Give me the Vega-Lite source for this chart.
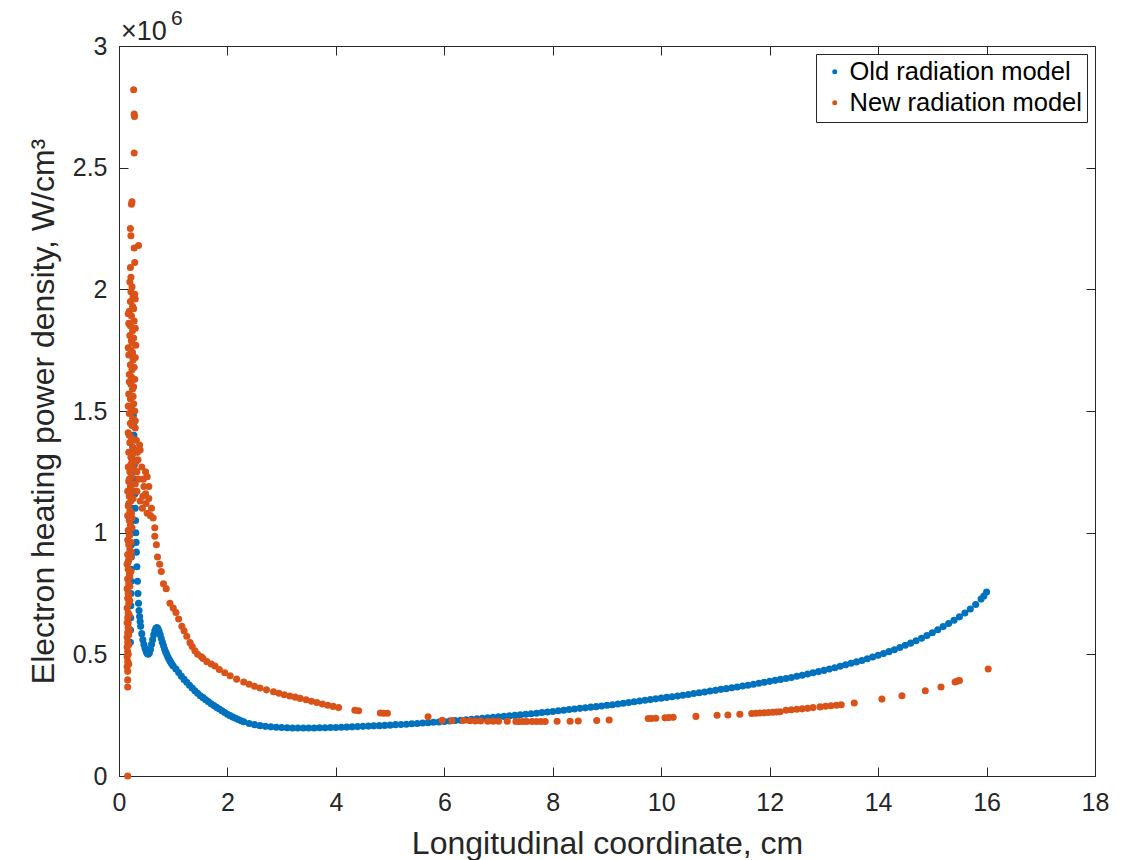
{
  "$schema": "https://vega.github.io/schema/vega-lite/v6.json",
  "width": 976,
  "height": 730,
  "autosize": "none",
  "padding": {"left": 119, "top": 46, "right": 40, "bottom": 84},
  "background": "white",
  "datasets": {
    "pts": [
      {"x":0.21,"y":0.55,"m":"Old"},{"x":0.212,"y":0.6,"m":"Old"},{"x":0.215,"y":0.65,"m":"Old"},{"x":0.218,"y":0.7,"m":"Old"},{"x":0.22,"y":0.75,"m":"Old"},{"x":0.222,"y":0.8,"m":"Old"},{"x":0.225,"y":0.85,"m":"Old"},{"x":0.228,"y":0.9,"m":"Old"},{"x":0.23,"y":0.95,"m":"Old"},{"x":0.232,"y":1.0,"m":"Old"},{"x":0.235,"y":1.05,"m":"Old"},{"x":0.238,"y":1.1,"m":"Old"},{"x":0.24,"y":1.15,"m":"Old"},{"x":0.243,"y":1.2,"m":"Old"},{"x":0.246,"y":1.25,"m":"Old"},{"x":0.25,"y":1.3,"m":"Old"},{"x":0.253,"y":1.35,"m":"Old"},{"x":0.256,"y":1.4,"m":"Old"},{"x":0.26,"y":1.45,"m":"Old"},{"x":0.265,"y":1.48,"m":"Old"},{"x":0.27,"y":1.45,"m":"Old"},{"x":0.275,"y":1.4,"m":"Old"},{"x":0.28,"y":1.34,"m":"Old"},{"x":0.285,"y":1.28,"m":"Old"},{"x":0.29,"y":1.22,"m":"Old"},{"x":0.295,"y":1.16,"m":"Old"},{"x":0.3,"y":1.1,"m":"Old"},{"x":0.305,"y":1.05,"m":"Old"},{"x":0.31,"y":1.0,"m":"Old"},{"x":0.315,"y":0.96,"m":"Old"},{"x":0.32,"y":0.92,"m":"Old"},{"x":0.33,"y":0.86,"m":"Old"},{"x":0.34,"y":0.8,"m":"Old"},{"x":0.35,"y":0.75,"m":"Old"},{"x":0.36,"y":0.71,"m":"Old"},{"x":0.37,"y":0.68,"m":"Old"},{"x":0.38,"y":0.655,"m":"Old"},{"x":0.39,"y":0.635,"m":"Old"},{"x":0.4,"y":0.615,"m":"Old"},{"x":0.42,"y":0.585,"m":"Old"},{"x":0.44,"y":0.56,"m":"Old"},{"x":0.46,"y":0.54,"m":"Old"},{"x":0.48,"y":0.525,"m":"Old"},{"x":0.5,"y":0.512,"m":"Old"},{"x":0.52,"y":0.503,"m":"Old"},{"x":0.54,"y":0.5,"m":"Old"},{"x":0.56,"y":0.505,"m":"Old"},{"x":0.58,"y":0.52,"m":"Old"},{"x":0.6,"y":0.54,"m":"Old"},{"x":0.62,"y":0.56,"m":"Old"},{"x":0.64,"y":0.58,"m":"Old"},{"x":0.66,"y":0.597,"m":"Old"},{"x":0.68,"y":0.607,"m":"Old"},{"x":0.7,"y":0.61,"m":"Old"},{"x":0.72,"y":0.605,"m":"Old"},{"x":0.74,"y":0.594,"m":"Old"},{"x":0.76,"y":0.58,"m":"Old"},{"x":0.78,"y":0.565,"m":"Old"},{"x":0.8,"y":0.55,"m":"Old"},{"x":0.82,"y":0.536,"m":"Old"},{"x":0.84,"y":0.522,"m":"Old"},{"x":0.86,"y":0.51,"m":"Old"},{"x":0.88,"y":0.5,"m":"Old"},{"x":0.9,"y":0.49,"m":"Old"},{"x":0.92,"y":0.481,"m":"Old"},{"x":0.94,"y":0.473,"m":"Old"},{"x":0.96,"y":0.465,"m":"Old"},{"x":0.98,"y":0.458,"m":"Old"},{"x":1.0,"y":0.452,"m":"Old"},{"x":1.05,"y":0.44,"m":"Old"},{"x":1.1,"y":0.425,"m":"Old"},{"x":1.15,"y":0.41,"m":"Old"},{"x":1.2,"y":0.397,"m":"Old"},{"x":1.25,"y":0.385,"m":"Old"},{"x":1.3,"y":0.373,"m":"Old"},{"x":1.35,"y":0.362,"m":"Old"},{"x":1.4,"y":0.35,"m":"Old"},{"x":1.45,"y":0.34,"m":"Old"},{"x":1.5,"y":0.33,"m":"Old"},
      {"x":1.55,"y":0.322,"m":"Old"},{"x":1.6,"y":0.313,"m":"Old"},{"x":1.65,"y":0.305,"m":"Old"},{"x":1.7,"y":0.297,"m":"Old"},{"x":1.75,"y":0.29,"m":"Old"},{"x":1.8,"y":0.282,"m":"Old"},{"x":1.85,"y":0.275,"m":"Old"},{"x":1.9,"y":0.268,"m":"Old"},{"x":1.95,"y":0.261,"m":"Old"},{"x":2.0,"y":0.254,"m":"Old"},{"x":2.05,"y":0.248,"m":"Old"},{"x":2.1,"y":0.242,"m":"Old"},{"x":2.15,"y":0.237,"m":"Old"},{"x":2.2,"y":0.232,"m":"Old"},{"x":2.25,"y":0.227,"m":"Old"},{"x":2.3,"y":0.223,"m":"Old"},{"x":2.4,"y":0.216,"m":"Old"},{"x":2.5,"y":0.211,"m":"Old"},{"x":2.6,"y":0.207,"m":"Old"},{"x":2.7,"y":0.204,"m":"Old"},{"x":2.8,"y":0.202,"m":"Old"},{"x":2.9,"y":0.2,"m":"Old"},{"x":3.0,"y":0.199,"m":"Old"},{"x":3.1,"y":0.198,"m":"Old"},{"x":3.2,"y":0.197,"m":"Old"},{"x":3.3,"y":0.197,"m":"Old"},{"x":3.4,"y":0.197,"m":"Old"},{"x":3.5,"y":0.197,"m":"Old"},{"x":3.6,"y":0.197,"m":"Old"},{"x":3.7,"y":0.198,"m":"Old"},{"x":3.8,"y":0.198,"m":"Old"},{"x":3.9,"y":0.199,"m":"Old"},{"x":4.0,"y":0.199,"m":"Old"},{"x":4.1,"y":0.2,"m":"Old"},{"x":4.2,"y":0.201,"m":"Old"},{"x":4.3,"y":0.202,"m":"Old"},{"x":4.4,"y":0.203,"m":"Old"},{"x":4.5,"y":0.204,"m":"Old"},{"x":4.6,"y":0.205,"m":"Old"},{"x":4.7,"y":0.206,"m":"Old"},{"x":4.8,"y":0.207,"m":"Old"},{"x":4.9,"y":0.208,"m":"Old"},{"x":5.0,"y":0.209,"m":"Old"},{"x":5.1,"y":0.211,"m":"Old"},{"x":5.2,"y":0.212,"m":"Old"},{"x":5.3,"y":0.213,"m":"Old"},{"x":5.4,"y":0.215,"m":"Old"},{"x":5.5,"y":0.216,"m":"Old"},{"x":5.6,"y":0.218,"m":"Old"},{"x":5.7,"y":0.219,"m":"Old"},{"x":5.8,"y":0.221,"m":"Old"},{"x":5.9,"y":0.222,"m":"Old"},{"x":6.0,"y":0.224,"m":"Old"},{"x":6.1,"y":0.226,"m":"Old"},{"x":6.2,"y":0.228,"m":"Old"},{"x":6.3,"y":0.229,"m":"Old"},{"x":6.4,"y":0.231,"m":"Old"},{"x":6.5,"y":0.233,"m":"Old"},{"x":6.6,"y":0.235,"m":"Old"},{"x":6.7,"y":0.237,"m":"Old"},{"x":6.8,"y":0.239,"m":"Old"},{"x":6.9,"y":0.241,"m":"Old"},{"x":7.0,"y":0.243,"m":"Old"},{"x":7.1,"y":0.245,"m":"Old"},{"x":7.2,"y":0.247,"m":"Old"},{"x":7.3,"y":0.249,"m":"Old"},{"x":7.4,"y":0.252,"m":"Old"},{"x":7.5,"y":0.254,"m":"Old"},{"x":7.6,"y":0.256,"m":"Old"},{"x":7.7,"y":0.258,"m":"Old"},{"x":7.8,"y":0.261,"m":"Old"},{"x":7.9,"y":0.263,"m":"Old"},{"x":8.0,"y":0.265,"m":"Old"},{"x":8.1,"y":0.268,"m":"Old"},{"x":8.2,"y":0.27,"m":"Old"},{"x":8.3,"y":0.273,"m":"Old"},{"x":8.4,"y":0.275,"m":"Old"},{"x":8.5,"y":0.278,"m":"Old"},{"x":8.6,"y":0.28,"m":"Old"},{"x":8.7,"y":0.283,"m":"Old"},{"x":8.8,"y":0.285,"m":"Old"},{"x":8.9,"y":0.288,"m":"Old"},{"x":9.0,"y":0.291,"m":"Old"},{"x":9.1,"y":0.293,"m":"Old"},{"x":9.2,"y":0.296,"m":"Old"},{"x":9.3,"y":0.299,"m":"Old"},{"x":9.4,"y":0.302,"m":"Old"},{"x":9.5,"y":0.305,"m":"Old"},{"x":9.6,"y":0.308,"m":"Old"},{"x":9.7,"y":0.311,"m":"Old"},{"x":9.8,"y":0.314,"m":"Old"},{"x":9.9,"y":0.317,"m":"Old"},{"x":10.0,"y":0.32,"m":"Old"},{"x":10.1,"y":0.323,"m":"Old"},{"x":10.2,"y":0.326,"m":"Old"},{"x":10.3,"y":0.329,"m":"Old"},{"x":10.4,"y":0.332,"m":"Old"},{"x":10.5,"y":0.335,"m":"Old"},{"x":10.6,"y":0.339,"m":"Old"},{"x":10.7,"y":0.342,"m":"Old"},{"x":10.8,"y":0.345,"m":"Old"},{"x":10.9,"y":0.349,"m":"Old"},{"x":11.0,"y":0.352,"m":"Old"},{"x":11.1,"y":0.356,"m":"Old"},{"x":11.2,"y":0.359,"m":"Old"},{"x":11.3,"y":0.363,"m":"Old"},{"x":11.4,"y":0.366,"m":"Old"},{"x":11.5,"y":0.37,"m":"Old"},{"x":11.6,"y":0.373,"m":"Old"},{"x":11.7,"y":0.377,"m":"Old"},{"x":11.8,"y":0.381,"m":"Old"},{"x":11.9,"y":0.385,"m":"Old"},{"x":12.0,"y":0.389,"m":"Old"},{"x":12.1,"y":0.393,"m":"Old"},{"x":12.2,"y":0.397,"m":"Old"},{"x":12.3,"y":0.401,"m":"Old"},{"x":12.4,"y":0.405,"m":"Old"},{"x":12.5,"y":0.41,"m":"Old"},{"x":12.6,"y":0.414,"m":"Old"},{"x":12.7,"y":0.419,"m":"Old"},{"x":12.8,"y":0.424,"m":"Old"},{"x":12.9,"y":0.429,"m":"Old"},{"x":13.0,"y":0.434,"m":"Old"},{"x":13.1,"y":0.44,"m":"Old"},{"x":13.2,"y":0.445,"m":"Old"},{"x":13.3,"y":0.451,"m":"Old"},{"x":13.4,"y":0.457,"m":"Old"},{"x":13.5,"y":0.463,"m":"Old"},{"x":13.6,"y":0.469,"m":"Old"},{"x":13.7,"y":0.475,"m":"Old"},{"x":13.8,"y":0.482,"m":"Old"},{"x":13.9,"y":0.489,"m":"Old"},{"x":14.0,"y":0.496,"m":"Old"},{"x":14.1,"y":0.503,"m":"Old"},{"x":14.2,"y":0.511,"m":"Old"},{"x":14.3,"y":0.519,"m":"Old"},{"x":14.4,"y":0.528,"m":"Old"},{"x":14.5,"y":0.537,"m":"Old"},{"x":14.6,"y":0.546,"m":"Old"},{"x":14.7,"y":0.556,"m":"Old"},{"x":14.8,"y":0.566,"m":"Old"},{"x":14.9,"y":0.577,"m":"Old"},{"x":15.0,"y":0.589,"m":"Old"},{"x":15.1,"y":0.601,"m":"Old"},{"x":15.2,"y":0.614,"m":"Old"},{"x":15.3,"y":0.627,"m":"Old"},{"x":15.4,"y":0.64,"m":"Old"},{"x":15.5,"y":0.654,"m":"Old"},{"x":15.6,"y":0.67,"m":"Old"},{"x":15.7,"y":0.686,"m":"Old"},{"x":15.8,"y":0.705,"m":"Old"},{"x":15.9,"y":0.727,"m":"Old"},{"x":15.95,"y":0.74,"m":"Old"},{"x":16.0,"y":0.756,"m":"Old"},

      {"x":0.27,"y":2.82,"m":"New"},{"x":0.28,"y":2.72,"m":"New"},{"x":0.285,"y":2.71,"m":"New"},{"x":0.28,"y":2.56,"m":"New"},{"x":0.24,"y":2.36,"m":"New"},{"x":0.23,"y":2.35,"m":"New"},{"x":0.21,"y":2.25,"m":"New"},{"x":0.22,"y":2.22,"m":"New"},{"x":0.28,"y":2.17,"m":"New"},{"x":0.36,"y":2.18,"m":"New"},{"x":0.29,"y":2.11,"m":"New"},{"x":0.21,"y":2.09,"m":"New"},{"x":0.22,"y":2.05,"m":"New"},
      {"x":0.2,"y":2.03,"m":"New"},{"x":0.24,"y":2.01,"m":"New"},{"x":0.22,"y":1.99,"m":"New"},{"x":0.26,"y":1.97,"m":"New"},{"x":0.21,"y":1.95,"m":"New"},{"x":0.25,"y":1.93,"m":"New"},{"x":0.19,"y":1.91,"m":"New"},{"x":0.23,"y":1.89,"m":"New"},{"x":0.28,"y":1.87,"m":"New"},{"x":0.21,"y":1.85,"m":"New"},{"x":0.25,"y":1.83,"m":"New"},{"x":0.2,"y":1.81,"m":"New"},{"x":0.23,"y":1.79,"m":"New"},{"x":0.31,"y":1.77,"m":"New"},{"x":0.22,"y":1.75,"m":"New"},{"x":0.18,"y":1.73,"m":"New"},{"x":0.26,"y":1.71,"m":"New"},{"x":0.21,"y":1.69,"m":"New"},{"x":0.24,"y":1.67,"m":"New"},{"x":0.19,"y":1.65,"m":"New"},{"x":0.29,"y":1.63,"m":"New"},{"x":0.22,"y":1.61,"m":"New"},{"x":0.25,"y":1.59,"m":"New"},{"x":0.18,"y":1.57,"m":"New"},{"x":0.21,"y":1.55,"m":"New"},{"x":0.27,"y":1.53,"m":"New"},{"x":0.23,"y":1.51,"m":"New"},{"x":0.19,"y":1.49,"m":"New"},{"x":0.25,"y":1.47,"m":"New"},{"x":0.21,"y":1.45,"m":"New"},{"x":0.3,"y":1.43,"m":"New"},{"x":0.17,"y":1.41,"m":"New"},{"x":0.23,"y":1.39,"m":"New"},{"x":0.2,"y":1.37,"m":"New"},{"x":0.26,"y":1.35,"m":"New"},{"x":0.18,"y":1.33,"m":"New"},{"x":0.22,"y":1.31,"m":"New"},{"x":0.24,"y":1.29,"m":"New"},{"x":0.17,"y":1.27,"m":"New"},{"x":0.2,"y":1.25,"m":"New"},{"x":0.23,"y":1.23,"m":"New"},{"x":0.18,"y":1.21,"m":"New"},{"x":0.21,"y":1.19,"m":"New"},{"x":0.16,"y":1.17,"m":"New"},{"x":0.19,"y":1.15,"m":"New"},{"x":0.22,"y":1.13,"m":"New"},{"x":0.17,"y":1.11,"m":"New"},{"x":0.2,"y":1.09,"m":"New"},{"x":0.16,"y":1.07,"m":"New"},{"x":0.19,"y":1.05,"m":"New"},{"x":0.21,"y":1.03,"m":"New"},{"x":0.17,"y":1.01,"m":"New"},{"x":0.19,"y":0.99,"m":"New"},{"x":0.16,"y":0.97,"m":"New"},{"x":0.18,"y":0.95,"m":"New"},{"x":0.2,"y":0.93,"m":"New"},{"x":0.16,"y":0.91,"m":"New"},{"x":0.18,"y":0.89,"m":"New"},{"x":0.15,"y":0.87,"m":"New"},{"x":0.17,"y":0.85,"m":"New"},{"x":0.19,"y":0.83,"m":"New"},{"x":0.16,"y":0.81,"m":"New"},{"x":0.18,"y":0.79,"m":"New"},{"x":0.15,"y":0.77,"m":"New"},{"x":0.17,"y":0.75,"m":"New"},{"x":0.16,"y":0.73,"m":"New"},{"x":0.18,"y":0.71,"m":"New"},{"x":0.15,"y":0.69,"m":"New"},{"x":0.17,"y":0.67,"m":"New"},{"x":0.16,"y":0.65,"m":"New"},{"x":0.15,"y":0.63,"m":"New"},{"x":0.17,"y":0.61,"m":"New"},{"x":0.16,"y":0.59,"m":"New"},{"x":0.15,"y":0.57,"m":"New"},{"x":0.16,"y":0.55,"m":"New"},{"x":0.15,"y":0.53,"m":"New"},{"x":0.16,"y":0.51,"m":"New"},{"x":0.15,"y":0.49,"m":"New"},{"x":0.16,"y":0.47,"m":"New"},{"x":0.15,"y":0.45,"m":"New"},{"x":0.16,"y":0.43,"m":"New"},{"x":0.16,"y":0.395,"m":"New"},{"x":0.16,"y":0.366,"m":"New"},{"x":0.16,"y":0.0,"m":"New"},
      {"x":0.29,"y":1.98,"m":"New"},{"x":0.27,"y":1.92,"m":"New"},{"x":0.18,"y":1.86,"m":"New"},{"x":0.27,"y":1.8,"m":"New"},{"x":0.25,"y":1.74,"m":"New"},{"x":0.28,"y":1.68,"m":"New"},{"x":0.19,"y":1.62,"m":"New"},{"x":0.26,"y":1.56,"m":"New"},{"x":0.29,"y":1.5,"m":"New"},{"x":0.24,"y":1.44,"m":"New"},{"x":0.27,"y":1.38,"m":"New"},{"x":0.25,"y":1.32,"m":"New"},{"x":0.28,"y":1.26,"m":"New"},{"x":0.25,"y":1.2,"m":"New"},{"x":0.26,"y":1.14,"m":"New"},{"x":0.23,"y":1.08,"m":"New"},{"x":0.24,"y":1.02,"m":"New"},{"x":0.22,"y":0.96,"m":"New"},{"x":0.21,"y":0.9,"m":"New"},{"x":0.22,"y":0.84,"m":"New"},{"x":0.2,"y":0.78,"m":"New"},{"x":0.2,"y":0.72,"m":"New"},{"x":0.19,"y":0.66,"m":"New"},{"x":0.19,"y":0.6,"m":"New"},{"x":0.18,"y":0.54,"m":"New"},
      {"x":0.3,"y":1.96,"m":"New"},{"x":0.17,"y":1.9,"m":"New"},{"x":0.3,"y":1.84,"m":"New"},{"x":0.24,"y":1.78,"m":"New"},{"x":0.17,"y":1.76,"m":"New"},{"x":0.3,"y":1.72,"m":"New"},{"x":0.23,"y":1.64,"m":"New"},{"x":0.27,"y":1.6,"m":"New"},{"x":0.17,"y":1.52,"m":"New"},{"x":0.3,"y":1.46,"m":"New"},{"x":0.19,"y":1.4,"m":"New"},{"x":0.28,"y":1.34,"m":"New"},{"x":0.22,"y":1.28,"m":"New"},{"x":0.19,"y":1.22,"m":"New"},{"x":0.27,"y":1.17,"m":"New"},{"x":0.18,"y":1.12,"m":"New"},{"x":0.24,"y":1.06,"m":"New"},{"x":0.2,"y":0.99,"m":"New"},{"x":0.22,"y":0.92,"m":"New"},{"x":0.17,"y":0.88,"m":"New"},{"x":0.2,"y":0.82,"m":"New"},{"x":0.18,"y":0.74,"m":"New"},{"x":0.17,"y":0.63,"m":"New"},{"x":0.18,"y":0.58,"m":"New"},{"x":0.17,"y":0.5,"m":"New"},{"x":0.18,"y":0.46,"m":"New"},
      {"x":0.32,"y":1.38,"m":"New"},{"x":0.34,"y":1.33,"m":"New"},{"x":0.31,"y":1.29,"m":"New"},{"x":0.33,"y":1.25,"m":"New"},{"x":0.3,"y":1.2,"m":"New"},{"x":0.33,"y":1.17,"m":"New"},
      {"x":0.39,"y":1.34,"m":"New"},{"x":0.42,"y":1.27,"m":"New"},{"x":0.49,"y":1.25,"m":"New"},{"x":0.52,"y":1.23,"m":"New"},{"x":0.46,"y":1.19,"m":"New"},{"x":0.49,"y":1.16,"m":"New"},{"x":0.55,"y":1.14,"m":"New"},{"x":0.43,"y":1.1,"m":"New"},{"x":0.52,"y":1.08,"m":"New"},{"x":0.58,"y":1.07,"m":"New"},{"x":0.39,"y":1.13,"m":"New"},{"x":0.36,"y":1.22,"m":"New"},{"x":0.45,"y":1.22,"m":"New"},{"x":0.5,"y":1.12,"m":"New"},{"x":0.55,"y":1.19,"m":"New"},{"x":0.6,"y":1.1,"m":"New"},{"x":0.35,"y":1.3,"m":"New"},{"x":0.38,"y":1.36,"m":"New"},{"x":0.44,"y":1.15,"m":"New"},{"x":0.63,"y":1.06,"m":"New"},{"x":0.66,"y":1.02,"m":"New"},{"x":0.66,"y":0.985,"m":"New"},{"x":0.69,"y":0.95,"m":"New"},{"x":0.71,"y":0.9,"m":"New"},{"x":0.75,"y":0.87,"m":"New"},{"x":0.78,"y":0.84,"m":"New"},{"x":0.82,"y":0.79,"m":"New"},{"x":0.87,"y":0.77,"m":"New"},{"x":0.94,"y":0.71,"m":"New"},{"x":1.0,"y":0.69,"m":"New"},
      {"x":1.05,"y":0.672,"m":"New"},{"x":1.1,"y":0.645,"m":"New"},{"x":1.16,"y":0.615,"m":"New"},{"x":1.2,"y":0.597,"m":"New"},{"x":1.25,"y":0.574,"m":"New"},{"x":1.31,"y":0.548,"m":"New"},{"x":1.35,"y":0.532,"m":"New"},{"x":1.4,"y":0.515,"m":"New"},{"x":1.45,"y":0.5,"m":"New"},{"x":1.52,"y":0.49,"m":"New"},{"x":1.55,"y":0.483,"m":"New"},{"x":1.62,"y":0.47,"m":"New"},{"x":1.7,"y":0.46,"m":"New"},{"x":1.77,"y":0.452,"m":"New"},{"x":1.85,"y":0.438,"m":"New"},{"x":1.95,"y":0.424,"m":"New"},{"x":2.05,"y":0.412,"m":"New"},{"x":2.17,"y":0.398,"m":"New"},{"x":2.3,"y":0.386,"m":"New"},{"x":2.4,"y":0.377,"m":"New"},{"x":2.5,"y":0.369,"m":"New"},{"x":2.6,"y":0.362,"m":"New"},{"x":2.72,"y":0.354,"m":"New"},{"x":2.85,"y":0.346,"m":"New"},{"x":2.95,"y":0.34,"m":"New"},{"x":3.05,"y":0.334,"m":"New"},{"x":3.15,"y":0.329,"m":"New"},{"x":3.25,"y":0.324,"m":"New"},{"x":3.34,"y":0.319,"m":"New"},{"x":3.45,"y":0.313,"m":"New"},{"x":3.55,"y":0.307,"m":"New"},{"x":3.65,"y":0.302,"m":"New"},{"x":3.75,"y":0.296,"m":"New"},{"x":3.85,"y":0.291,"m":"New"},{"x":3.95,"y":0.286,"m":"New"},{"x":4.05,"y":0.281,"m":"New"},{"x":4.35,"y":0.27,"m":"New"},{"x":4.42,"y":0.268,"m":"New"},{"x":4.82,"y":0.259,"m":"New"},{"x":4.88,"y":0.258,"m":"New"},{"x":4.95,"y":0.258,"m":"New"},{"x":5.7,"y":0.243,"m":"New"},
      {"x":5.96,"y":0.229,"m":"New"},{"x":6.14,"y":0.228,"m":"New"},{"x":6.35,"y":0.228,"m":"New"},{"x":6.47,"y":0.227,"m":"New"},{"x":6.57,"y":0.226,"m":"New"},{"x":6.67,"y":0.226,"m":"New"},{"x":6.8,"y":0.225,"m":"New"},{"x":6.9,"y":0.225,"m":"New"},{"x":7.0,"y":0.225,"m":"New"},{"x":7.16,"y":0.225,"m":"New"},{"x":7.32,"y":0.224,"m":"New"},{"x":7.38,"y":0.224,"m":"New"},{"x":7.45,"y":0.224,"m":"New"},{"x":7.52,"y":0.224,"m":"New"},{"x":7.62,"y":0.224,"m":"New"},{"x":7.7,"y":0.224,"m":"New"},{"x":7.78,"y":0.224,"m":"New"},{"x":7.86,"y":0.224,"m":"New"},{"x":8.08,"y":0.225,"m":"New"},{"x":8.32,"y":0.225,"m":"New"},{"x":8.47,"y":0.226,"m":"New"},{"x":8.81,"y":0.228,"m":"New"},{"x":9.04,"y":0.23,"m":"New"},{"x":9.76,"y":0.236,"m":"New"},{"x":9.82,"y":0.236,"m":"New"},{"x":9.9,"y":0.237,"m":"New"},{"x":10.07,"y":0.239,"m":"New"},{"x":10.14,"y":0.24,"m":"New"},{"x":10.22,"y":0.241,"m":"New"},{"x":10.64,"y":0.245,"m":"New"},{"x":11.03,"y":0.25,"m":"New"},{"x":11.23,"y":0.251,"m":"New"},{"x":11.45,"y":0.254,"m":"New"},{"x":11.67,"y":0.257,"m":"New"},{"x":11.75,"y":0.258,"m":"New"},{"x":11.82,"y":0.259,"m":"New"},{"x":11.9,"y":0.26,"m":"New"},{"x":11.98,"y":0.261,"m":"New"},{"x":12.06,"y":0.262,"m":"New"},{"x":12.13,"y":0.263,"m":"New"},{"x":12.19,"y":0.264,"m":"New"},{"x":12.3,"y":0.27,"m":"New"},{"x":12.4,"y":0.272,"m":"New"},{"x":12.5,"y":0.274,"m":"New"},{"x":12.6,"y":0.276,"m":"New"},{"x":12.7,"y":0.278,"m":"New"},{"x":12.8,"y":0.281,"m":"New"},{"x":12.93,"y":0.284,"m":"New"},{"x":13.03,"y":0.287,"m":"New"},{"x":13.13,"y":0.289,"m":"New"},{"x":13.23,"y":0.291,"m":"New"},{"x":13.32,"y":0.293,"m":"New"},{"x":13.56,"y":0.3,"m":"New"},{"x":14.07,"y":0.316,"m":"New"},{"x":14.44,"y":0.33,"m":"New"},{"x":14.87,"y":0.35,"m":"New"},{"x":15.16,"y":0.366,"m":"New"},{"x":15.42,"y":0.386,"m":"New"},{"x":15.46,"y":0.39,"m":"New"},{"x":15.5,"y":0.392,"m":"New"},{"x":16.03,"y":0.44,"m":"New"}
    ],
    "frame": [{"x": 0, "y": 0}]
  },
  "layer": [
    {
      "data": {"name": "pts"},
      "mark": {"type": "circle", "size": 50, "opacity": 1},
      "encoding": {
        "x": {"field": "x", "type": "quantitative", "scale": {"domain": [0, 18], "nice": false, "zero": false},
              "axis": {"orient": "bottom", "values": [0,2,4,6,8,10,12,14,16,18], "title": "Longitudinal coordinate, cm", "labelPadding": 23, "titlePadding": 13, "labelBaseline": "top"}},
        "y": {"field": "y", "type": "quantitative", "scale": {"domain": [0, 3], "nice": false, "zero": false},
              "axis": {"orient": "left", "values": [0,0.5,1,1.5,2,2.5,3], "labelExpr": "'' + datum.value", "title": "Electron heating power density, W/cm³", "labelPadding": 21, "titlePadding": 12}},
        "color": {"field": "m", "type": "nominal", "sort": ["Old", "New"],
                  "scale": {"domain": ["Old", "New"], "range": ["#0072BD", "#D95319"]},
                  "legend": {"title": null, "orient": "top-right", "offset": 8, "labelExpr": "datum.label + ' radiation model'"}}
      }
    },
    {
      "data": {"name": "frame"},
      "mark": {"type": "point", "opacity": 0},
      "encoding": {
        "x": {"field": "x", "type": "quantitative", "scale": {"domain": [0, 18], "nice": false, "zero": false},
              "axis": {"orient": "top", "values": [0,2,4,6,8,10,12,14,16,18], "labels": false, "title": null}},
        "y": {"field": "y", "type": "quantitative", "scale": {"domain": [0, 3], "nice": false, "zero": false},
              "axis": {"orient": "right", "values": [0,0.5,1,1.5,2,2.5,3], "labels": false, "title": null}}
      }
    },
    {
      "data": {"values": [{"t": "×10"}]},
      "mark": {"type": "text", "align": "left", "baseline": "alphabetic", "fontSize": 27, "font": "Liberation Sans", "color": "#262626", "dx": 2, "dy": -6},
      "encoding": {
        "x": {"datum": 0, "type": "quantitative", "axis": null},
        "y": {"datum": 3, "type": "quantitative", "axis": null},
        "text": {"field": "t"}
      }
    },
    {
      "data": {"values": [{"t": "6"}]},
      "mark": {"type": "text", "align": "left", "baseline": "alphabetic", "fontSize": 21, "font": "Liberation Sans", "color": "#262626", "dx": 52, "dy": -21},
      "encoding": {
        "x": {"datum": 0, "type": "quantitative", "axis": null},
        "y": {"datum": 3, "type": "quantitative", "axis": null},
        "text": {"field": "t"}
      }
    }
  ],
  "resolve": {"axis": {"x": "independent", "y": "independent"}},
  "config": {
    "font": "Liberation Sans",
    "view": {"stroke": null},
    "axis": {
      "grid": false,
      "domainColor": "#262626",
      "domainWidth": 1,
      "tickColor": "#262626",
      "tickWidth": 1,
      "tickSize": -9,
      "labelColor": "#262626",
      "labelFontSize": 25,
      "labelFont": "Liberation Sans",
      "titleColor": "#262626",
      "titleFontSize": 32,
      "titleFontWeight": "normal",
      "titleFont": "Liberation Sans",
      "labelFlush": false,
      "labelOverlap": false
    },
    "legend": {
      "strokeColor": "#262626",
      "strokeWidth": 1,
      "fillColor": "white",
      "padding": 5,
      "labelFontSize": 25.5,
      "labelFont": "Liberation Sans",
      "labelColor": "black",
      "symbolType": "circle",
      "symbolSize": 25,
      "symbolStrokeWidth": 0,
      "symbolOffset": 1,
      "labelOffset": 2,
      "rowPadding": 4,
      "labelLimit": 400
    }
  }
}
